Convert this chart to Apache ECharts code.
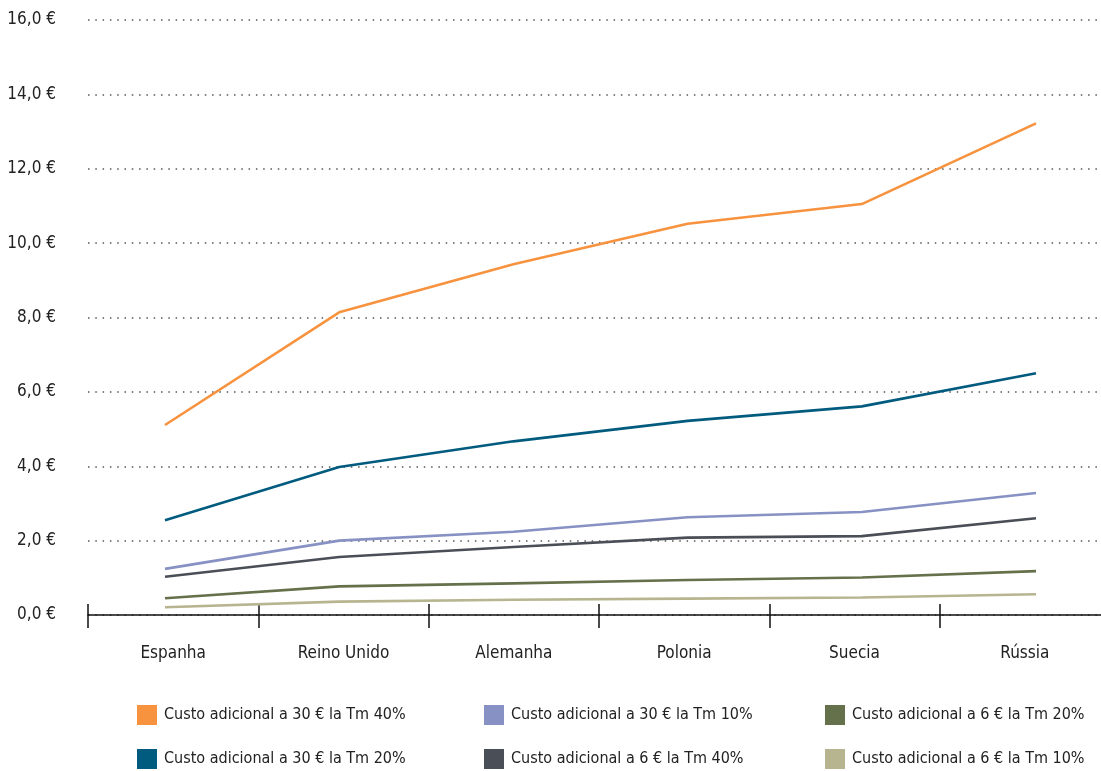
<!DOCTYPE html>
<html lang="pt">
<head>
    <meta charset="UTF-8" />
    <title>Custo adicional por país</title>
    <script src="https://cdn.jsdelivr.net/npm/echarts/dist/echarts.min.js"></script>
    <style>
        html, body { margin: 0; padding: 0; background: #ffffff; }
        #main { width: 1101px; height: 771px; }
    </style>
</head>
<body>
    <div id="main"></div>
    <script type="text/javascript">
        // países (eixo x)
        var paises = ['Espanha', 'Reino Unido', 'Alemanha', 'Polonia', 'Suecia', 'Rússia'];
        var yTicks = [0, 2, 4, 6, 8, 10, 12, 14, 16];

        // séries
        var nomes = [
            'Custo adicional a 30 € la Tm 40%',
            'Custo adicional a 30 € la Tm 20%',
            'Custo adicional a 30 € la Tm 10%',
            'Custo adicional a 6 € la Tm 40%',
            'Custo adicional a 6 € la Tm 20%',
            'Custo adicional a 6 € la Tm 10%'
        ];
        var custo30_40 = [5.11, 8.14, 9.43, 10.52, 11.05, 13.22];
        var custo30_20 = [2.55, 3.98, 4.67, 5.22, 5.61, 6.50];
        var custo30_10 = [1.24, 2.00, 2.24, 2.63, 2.77, 3.28];
        var custo6_40 = [1.03, 1.56, 1.83, 2.08, 2.12, 2.60];
        var custo6_20 = [0.45, 0.77, 0.85, 0.94, 1.01, 1.18];
        var custo6_10 = [0.21, 0.36, 0.41, 0.44, 0.47, 0.56];

        var cores = ['#f7923f', '#005b7f', '#8891c3', '#4a4e57', '#64714a', '#b7b590'];
        var dados = [custo30_40, custo30_20, custo30_10, custo6_40, custo6_20, custo6_10];

        var fonte = '"DejaVu Sans Condensed", "Liberation Sans Narrow", sans-serif';

        var chartDom = document.getElementById('main');
        var myChart = echarts.init(chartDom);
        var option;

        var series = dados.map(function (d, i) {
            return {
                name: nomes[i],
                type: 'line',
                xAxisIndex: 2,
                yAxisIndex: 1,
                data: d,
                symbol: 'none',
                lineStyle: { color: cores[i], width: 2.6 },
                itemStyle: { color: cores[i] },
                z: 10 - i
            };
        });

        function legenda(left, lista) {
            return {
                orient: 'vertical',
                left: left,
                top: 705,
                padding: 0,
                height: 66,
                icon: 'rect',
                itemWidth: 20,
                itemHeight: 20,
                itemGap: 24,
                selectedMode: false,
                textStyle: { fontFamily: fonte, fontSize: 16, color: '#222', padding: [0, 0, 0, 2] },
                data: lista
            };
        }

        option = {
            animation: false,
            legend: [
                legenda(137, [nomes[0], nomes[1]]),
                legenda(484, [nomes[2], nomes[3]]),
                legenda(825, [nomes[4], nomes[5]])
            ],
            grid: [
                { left: 88, right: -9, top: 20, bottom: 156, outerBoundsMode: 'none' },
                { left: 165, right: 65, top: 20, bottom: 156, outerBoundsMode: 'none' }
            ],
            xAxis: [
                {
                    type: 'category',
                    gridIndex: 0,
                    data: paises,
                    boundaryGap: true,
                    axisLine: { lineStyle: { color: '#111', width: 1.5 } },
                    axisTick: { show: true, length: 13, lineStyle: { color: '#111', width: 1.5 } },
                    axisLabel: { fontFamily: fonte, fontSize: 17, color: '#222', margin: 30 }
                },
                {
                    type: 'category',
                    gridIndex: 0,
                    data: paises,
                    position: 'bottom',
                    boundaryGap: true,
                    axisLine: { show: false },
                    axisTick: { show: true, inside: true, length: 11, lineStyle: { color: '#111', width: 1.5 } },
                    axisLabel: { show: false }
                },
                {
                    type: 'category',
                    gridIndex: 1,
                    data: paises,
                    boundaryGap: false,
                    show: false
                }
            ],
            yAxis: [
                {
                    type: 'value',
                    gridIndex: 0,
                    min: yTicks[0],
                    max: yTicks[yTicks.length - 1],
                    interval: 2,
                    axisLine: { show: false },
                    axisTick: { show: false },
                    axisLabel: {
                        fontFamily: fonte,
                        fontSize: 17,
                        color: '#222',
                        margin: 32,
                        formatter: function (v) {
                            return v.toFixed(1).replace('.', ',') + ' €';
                        }
                    },
                    splitLine: {
                        show: true,
                        lineStyle: { color: '#555', width: 1.5, type: [1.5, 5.8] }
                    }
                },
                {
                    type: 'value',
                    gridIndex: 1,
                    min: yTicks[0],
                    max: yTicks[yTicks.length - 1],
                    show: false,
                    splitLine: { show: false }
                }
            ],
            series: series
        };
        option && myChart.setOption(option);
    </script>
</body>
</html>
